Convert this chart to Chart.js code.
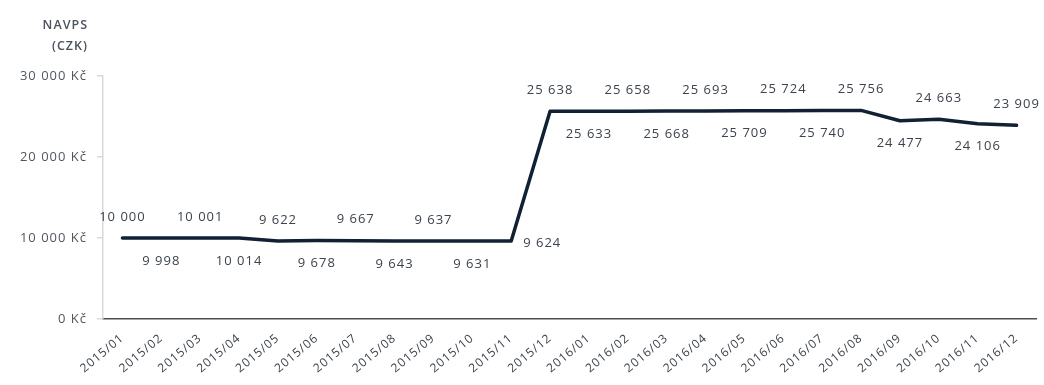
<!DOCTYPE html>
<html><head><meta charset="utf-8">
<script src="https://cdn.jsdelivr.net/npm/chart.js@4"></script>
<style>html,body{margin:0;padding:0;background:#fff}#wrap{width:1044px;height:385px;position:relative}</style>
</head><body><div id="wrap"><canvas id="c"></canvas></div>
<script>
const categories = ['2015/01','2015/02','2015/03','2015/04','2015/05','2015/06','2015/07','2015/08','2015/09','2015/10','2015/11','2015/12',
  '2016/01','2016/02','2016/03','2016/04','2016/05','2016/06','2016/07','2016/08','2016/09','2016/10','2016/11','2016/12'];
const navps = [10000, 9998, 10001, 10014, 9622, 9678, 9667, 9643, 9637, 9631, 9624, 25638,
  25633, 25658, 25668, 25693, 25709, 25724, 25740, 25756, 24477, 24663, 24106, 23909];
const yMin = 0, yMax = 30000, yStep = 10000;
const axisTitle = ['NAVPS', '(CZK)'];
const currency = 'Kč';

function fmt(v){ return String(v).replace(/\B(?=(\d{3})+(?!\d))/g, ' '); }

const spacingPlugin = {
  id: 'spacing',
  beforeLayout(chart){ chart.ctx.letterSpacing = '1px'; },
  beforeDraw(chart){ chart.ctx.letterSpacing = '1px'; }
};

const titlePlugin = {
  id: 'ytitle',
  afterDraw(chart){
    const ctx = chart.ctx;
    ctx.save();
    ctx.font = '600 12.5px "Open Sans"';
    ctx.fillStyle = '#4a525c';
    ctx.textAlign = 'right';
    ctx.textBaseline = 'middle';
    ctx.fillText(axisTitle[0], 88, 25);
    ctx.fillText(axisTitle[1], 88, 46);
    ctx.restore();
  }
};

const labelPlugin = {
  id: 'vlabels',
  afterDatasetsDraw(chart){
    const ctx = chart.ctx;
    const meta = chart.getDatasetMeta(0);
    ctx.save();
    ctx.font = '13px "Open Sans"';
    ctx.fillStyle = '#3c434c';
    ctx.textBaseline = 'middle';
    meta.data.forEach((pt, i) => {
      const t = fmt(navps[i]);
      if (i === 10) {
        ctx.textAlign = 'left';
        ctx.fillText(t, pt.x + 12, pt.y + 2);
        return;
      }
      const above = i < 10 ? (i % 2 === 0) : (i % 2 === 1);
      ctx.textAlign = 'center';
      ctx.fillText(t, pt.x, pt.y + (above ? -21 : 23));
    });
    ctx.restore();
  }
};

new Chart(document.getElementById('c'), {
  type: 'line',
  data: {
    labels: categories,
    datasets: [{
      data: navps,
      borderColor: '#0f2132',
      borderWidth: 3.5,
      pointRadius: 0,
      tension: 0,
      borderCapStyle: 'round',
      borderJoinStyle: 'round'
    }]
  },
  plugins: [spacingPlugin, titlePlugin, labelPlugin],
  options: {
    responsive: true,
    maintainAspectRatio: false,
    animation: false,
    layout: { padding: { top: 76, left: 0, right: 8, bottom: 0 } },
    plugins: { legend: { display: false }, tooltip: { enabled: false } },
    scales: {
      x: {
        offset: true,
        grid: { display: false, drawTicks: false },
        border: { display: true, color: '#4d4d4d', width: 1.5 },
        ticks: {
          color: '#3c434c',
          font: { family: 'Open Sans', size: 12 },
          minRotation: 40, maxRotation: 40,
          autoSkip: false,
          padding: 12
        },
        afterFit(scale){ scale.height = 66; }
      },
      y: {
        min: yMin, max: yMax,
        grid: { drawOnChartArea: false, drawTicks: true, tickLength: 6, color: '#d9d9d9', lineWidth: 1.5 },
        border: { display: true, color: '#d9d9d9', width: 1.5 },
        ticks: {
          stepSize: yStep,
          color: '#505760',
          font: { family: 'Open Sans', size: 13 },
          padding: 10,
          callback: v => fmt(v) + ' ' + currency
        },
        afterFit(scale){ scale.width = 103; }
      }
    }
  }
});
</script>
</body></html>
